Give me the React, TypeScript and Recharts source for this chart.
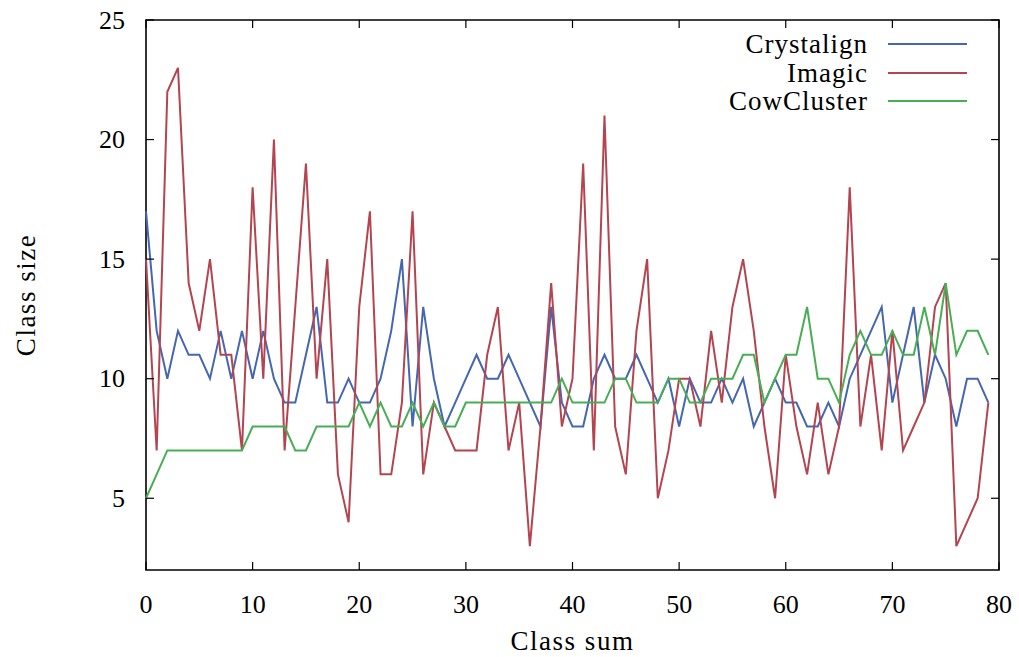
import { LineChart, Line, XAxis, YAxis, ReferenceArea, Legend } from 'recharts';

const classSum = [
  0, 1, 2, 3, 4, 5, 6, 7, 8, 9, 10, 11, 12, 13, 14, 15, 16, 17, 18, 19,
  20, 21, 22, 23, 24, 25, 26, 27, 28, 29, 30, 31, 32, 33, 34, 35, 36, 37, 38, 39,
  40, 41, 42, 43, 44, 45, 46, 47, 48, 49, 50, 51, 52, 53, 54, 55, 56, 57, 58, 59,
  60, 61, 62, 63, 64, 65, 66, 67, 68, 69, 70, 71, 72, 73, 74, 75, 76, 77, 78, 79,
];

const crystalign = [
  17, 12, 10, 12, 11, 11, 10, 12, 10, 12, 10, 12, 10, 9, 9, 11, 13, 9, 9, 10,
  9, 9, 10, 12, 15, 8, 13, 10, 8, 9, 10, 11, 10, 10, 11, 10, 9, 8, 13, 9,
  8, 8, 10, 11, 10, 10, 11, 10, 9, 10, 8, 10, 9, 9, 10, 9, 10, 8, 9, 10,
  9, 9, 8, 8, 9, 8, 10, 11, 12, 13, 9, 11, 13, 9, 11, 10, 8, 10, 10, 9,
];

const imagic = [
  15, 7, 22, 23, 14, 12, 15, 11, 11, 7, 18, 10, 20, 7, 13, 19, 10, 15, 6, 4,
  13, 17, 6, 6, 9, 17, 6, 9, 8, 7, 7, 7, 11, 13, 7, 9, 3, 8, 14, 8,
  10, 19, 7, 21, 8, 6, 12, 15, 5, 7, 10, 10, 8, 12, 9, 13, 15, 12, 8, 5,
  11, 8, 6, 9, 6, 8, 18, 8, 11, 7, 12, 7, 8, 9, 13, 14, 3, 4, 5, 9,
];

const cowCluster = [
  5, 6, 7, 7, 7, 7, 7, 7, 7, 7, 8, 8, 8, 8, 7, 7, 8, 8, 8, 8,
  9, 8, 9, 8, 8, 9, 8, 9, 8, 8, 9, 9, 9, 9, 9, 9, 9, 9, 9, 10,
  9, 9, 9, 9, 10, 10, 9, 9, 9, 10, 10, 9, 9, 10, 10, 10, 11, 11, 9, 10,
  11, 11, 13, 10, 10, 9, 11, 12, 11, 11, 12, 11, 11, 13, 11, 14, 11, 12, 12, 11,
];

const xTicks = [0, 10, 20, 30, 40, 50, 60, 70, 80];
const yTicks = [5, 10, 15, 20, 25];

const series = [
  { key: 'crystalign', name: 'Crystalign', color: '#4566b2' },
  { key: 'imagic', name: 'Imagic', color: '#b4444f' },
  { key: 'cowCluster', name: 'CowCluster', color: '#48ae56' },
];

const data = classSum.map((s, i) => ({
  sum: s,
  crystalign: crystalign[i],
  imagic: imagic[i],
  cowCluster: cowCluster[i],
}));

const W = 1019;
const H = 657;
const LEFT = 146;
const RIGHT = 999;
const TOP = 20;
const BOTTOM = 570;
const TICK = 8;
const FONT = '"Liberation Serif", "Times New Roman", serif';

function XTick(props: any) {
  const { x, payload } = props;
  return (
    <g>
      <line x1={x} y1={BOTTOM} x2={x} y2={BOTTOM - TICK} stroke="#000" strokeWidth={1.2} />
      <line x1={x} y1={TOP} x2={x} y2={TOP + TICK} stroke="#000" strokeWidth={1.2} />
      <text x={x} y={604} textAnchor="middle" dominantBaseline="central"
        fontFamily={FONT} fontSize={26} fill="#000">
        {payload.value}
      </text>
    </g>
  );
}

function YTick(props: any) {
  const { y, payload } = props;
  return (
    <g>
      <line x1={LEFT} y1={y} x2={LEFT + TICK} y2={y} stroke="#000" strokeWidth={1.2} />
      <line x1={RIGHT} y1={y} x2={RIGHT - TICK} y2={y} stroke="#000" strokeWidth={1.2} />
      <text x={125} y={y} textAnchor="end" dominantBaseline="central"
        fontFamily={FONT} fontSize={26} fill="#000">
        {payload.value}
      </text>
    </g>
  );
}

// absolutely positioned so the legend wrapper measures zero height
// and doesn't push the plot area down
function KeyBox() {
  return (
    <div style={{ position: 'absolute', top: 0, right: 0, width: 320, fontFamily: FONT, fontSize: 27, lineHeight: '28.5px' }}>
      {series.map((s) => (
        <div key={s.key} style={{ display: 'flex', justifyContent: 'flex-end', alignItems: 'center', height: 28.5 }}>
          <span style={{ letterSpacing: 1 }}>{s.name}</span>
          <span style={{ display: 'inline-block', width: 79, height: 2, background: s.color, marginLeft: 20 }} />
        </div>
      ))}
    </div>
  );
}

export default function App() {
  return (
    <div style={{ position: 'absolute', left: 0, top: 0, width: W, height: H, background: '#fff' }}>
      <LineChart width={W} height={H} data={data}
        margin={{ top: TOP, right: W - RIGHT, left: 0, bottom: 0 }}>
        <XAxis dataKey="sum" type="number" domain={[0, 80]} ticks={xTicks}
          axisLine={false} tickLine={false} tick={<XTick />} height={H - BOTTOM}
          interval={0}
          label={{
            content: () => (
              <text x={(LEFT + RIGHT) / 2} y={641} textAnchor="middle" dominantBaseline="central"
                fontFamily={FONT} fontSize={27} letterSpacing={1.5} fill="#000">
                Class sum
              </text>
            ),
          }} />
        <YAxis type="number" domain={[2, 25]} ticks={yTicks} width={LEFT}
          axisLine={false} tickLine={false} tick={<YTick />} interval={0}
          label={{
            content: () => (
              <text x={26} y={(TOP + BOTTOM) / 2} textAnchor="middle" dominantBaseline="central"
                transform={`rotate(-90 26 ${(TOP + BOTTOM) / 2})`}
                fontFamily={FONT} fontSize={27} letterSpacing={1.5} fill="#000">
                Class size
              </text>
            ),
          }} />
        <ReferenceArea x1={0} x2={80} y1={2} y2={25} fill="none" stroke="#000"
          strokeWidth={1.6} ifOverflow="visible" />
        {series.map((s) => (
          <Line key={s.key} dataKey={s.key} name={s.name} type="linear" stroke={s.color}
            strokeWidth={2} dot={false} activeDot={false} isAnimationActive={false} />
        ))}
        <Legend content={<KeyBox />} verticalAlign="top" align="right"
          wrapperStyle={{ top: 30, left: 647, width: 320, height: 0 }} />
      </LineChart>
    </div>
  );
}
